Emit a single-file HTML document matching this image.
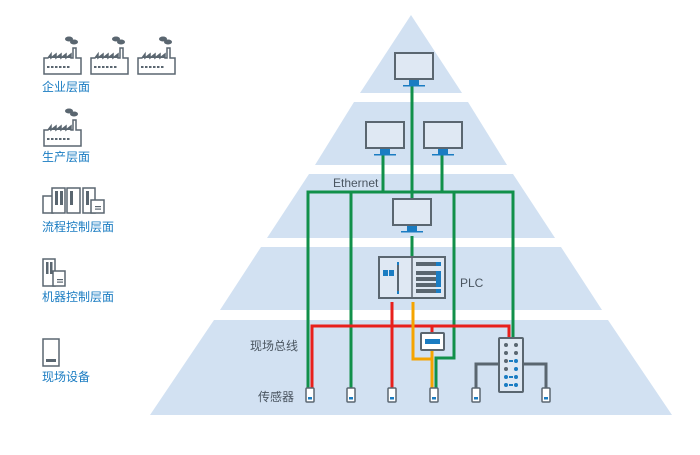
<!DOCTYPE html>
<html><head><meta charset="utf-8"><style>
html,body{margin:0;padding:0;background:#fff;}
svg{display:block;}
text{font-family:"Liberation Sans","Noto Sans CJK SC",sans-serif;}
</style></head><body>
<svg width="700" height="455" viewBox="0 0 700 455" xmlns="http://www.w3.org/2000/svg">
<defs>
<g id="fac">
  <path d="M2,26 L2,10 L6,10 L9,6 L9,10 L14,6 L14,10 L19,6 L19,10 L24,6 L24,10 L29,6 L29,10 L31,10 L31,0 L34,0 L34,10 L39,10 L39,26 Z" fill="#fff" stroke="#5a6670" stroke-width="1.5"/>
  <path d="M3,10 L6,10 L9,6 L9,10 L14,6 L14,10 L19,6 L19,10 L24,6 L24,10 L29,6 L29,10 L3,10Z" fill="#5a6670"/>
  <g fill="#5a6670"><rect x="5" y="18" width="2.5" height="2"/><rect x="9" y="18" width="2.5" height="2"/><rect x="13" y="18" width="2.5" height="2"/><rect x="17" y="18" width="2.5" height="2"/><rect x="21" y="18" width="2.5" height="2"/><rect x="25" y="18" width="2.5" height="2"/></g>
  <ellipse cx="27" cy="-9" rx="4" ry="2.5" fill="#5a6670"/><ellipse cx="32" cy="-6" rx="4" ry="2.5" fill="#5a6670"/>
</g>
<g id="mon">
  <rect x="0" y="0" width="38" height="26" fill="#dfe8f3" stroke="#5a6670" stroke-width="2"/>
  <rect x="14" y="27" width="10" height="5" fill="#1a7cc2"/>
  <rect x="8" y="32" width="22" height="1.5" fill="#1a7cc2"/>
</g>
<g id="sen">
  <rect x="0" y="0" width="8" height="14" rx="1" fill="#fff" stroke="#5a6670" stroke-width="1.5"/>
  <rect x="2" y="9" width="4" height="2.5" fill="#1a7cc2"/>
</g>
</defs>
<g fill="#d2e1f2">
  <polygon points="411,15 462,93 360,93"/>
  <polygon points="354,102 468,102 507,165 315,165"/>
  <polygon points="309,174 513,174 555,238 267,238"/>
  <polygon points="261,247 561,247 602,310 220,310"/>
  <polygon points="214,320 608,320 672,415 150,415"/>
</g>
<!-- left icons -->
<use href="#fac" x="42" y="48"/><use href="#fac" x="89" y="48"/><use href="#fac" x="136" y="48"/>
<use href="#fac" x="42" y="120"/>
<g stroke="#5a6670" stroke-width="1.5" fill="#fff">
  <rect x="43" y="196" width="10" height="17"/><rect x="52" y="188" width="13" height="25"/><rect x="67" y="188" width="13" height="25"/><rect x="83" y="188" width="12" height="25"/><rect x="91" y="200" width="13" height="13"/>
  <rect x="43" y="259" width="12" height="27"/><rect x="53" y="271" width="12" height="15"/>
  <rect x="43" y="339" width="16" height="27"/>
</g>
<g fill="#5a6670">
  <rect x="55" y="191" width="3" height="14"/><rect x="60" y="191" width="3" height="14"/><rect x="70" y="191" width="3" height="14"/><rect x="86" y="191" width="3" height="14"/>
  <rect x="95" y="206" width="6" height="1.2"/><rect x="95" y="208.5" width="6" height="1.2"/>
  <rect x="46" y="262" width="2.5" height="12"/><rect x="50" y="262" width="2.5" height="12"/>
  <rect x="57" y="279" width="6" height="1.2"/><rect x="57" y="281.5" width="6" height="1.2"/>
  <rect x="46" y="359" width="10" height="3"/>
</g>
<g fill="#1a7cc2" font-size="12">
  <text x="42" y="91">企业层面</text><text x="42" y="161">生产层面</text><text x="42" y="231">流程控制层面</text><text x="42" y="301">机器控制层面</text><text x="42" y="381">现场设备</text>
</g>
<!-- lines -->
<g fill="none" stroke-width="3">
  <path d="M412,86 V200 M412,236 V258" stroke="#11904a"/>
  <path d="M383,152 V192 M442,152 V192" stroke="#11904a"/>
  <path d="M308,390 V192 H513 V338 M351,390 V192 M454,192 V358 H436 V390" stroke="#11904a"/>
  <path d="M392,302 V390 M312,390 V326 H509 V338 M432,326 V333" stroke="#e8201c"/>
  <path d="M413,302 V359 H432 V390 M432,350 V359" stroke="#f5a400"/>
  <path d="M499,364 H476 V390 M523,364 H546 V390" stroke="#5a6670"/>
</g>
<use href="#mon" x="395" y="53"/>
<use href="#mon" x="366" y="122"/><use href="#mon" x="424" y="122"/>
<use href="#mon" x="393" y="199"/>
<!-- PLC -->
<rect x="379" y="257" width="66" height="41" fill="#dfe8f3" stroke="#5a6670" stroke-width="2"/>
<line x1="412" y1="257" x2="412" y2="298" stroke="#5a6670" stroke-width="1.5"/>
<rect x="383" y="270" width="5" height="6" fill="#1a7cc2"/><rect x="389" y="270" width="5" height="6" fill="#1a7cc2"/>
<rect x="397" y="262" width="2" height="32" fill="#5a6670"/><rect x="397" y="262" width="2" height="3" fill="#1a7cc2"/><rect x="397" y="291" width="2" height="3" fill="#1a7cc2"/>
<g fill="#5a6670">
  <rect x="416" y="262" width="20" height="4"/><rect x="416" y="271" width="20" height="4"/><rect x="416" y="277" width="20" height="4"/><rect x="416" y="283" width="20" height="4"/><rect x="416" y="289" width="20" height="4"/>
</g>
<g fill="#1a7cc2"><rect x="436" y="262" width="5" height="4"/><rect x="436" y="271" width="5" height="16"/><rect x="436" y="289" width="5" height="4"/></g>
<!-- small device -->
<rect x="421" y="333" width="23" height="17" rx="1" fill="#fff" stroke="#5a6670" stroke-width="2"/>
<rect x="425" y="339" width="15" height="5" fill="#1a7cc2"/>
<!-- switch -->
<rect x="499" y="338" width="24" height="54" rx="1" fill="#dfe8f3" stroke="#5a6670" stroke-width="2"/>
<g fill="#5a6670"><circle cx="506" cy="345" r="2"/><circle cx="516" cy="345" r="2"/><circle cx="506" cy="353" r="2"/><circle cx="516" cy="353" r="2"/><circle cx="506" cy="361" r="2"/><circle cx="506" cy="369" r="2"/></g>
<g fill="#1a7cc2"><circle cx="516" cy="361" r="2"/><circle cx="516" cy="369" r="2"/><circle cx="506" cy="377" r="2"/><circle cx="516" cy="377" r="2"/><circle cx="506" cy="385" r="2"/><circle cx="516" cy="385" r="2"/><rect x="509" y="360" width="4" height="2"/><rect x="509" y="376" width="4" height="2"/><rect x="509" y="384" width="4" height="2"/></g>
<use href="#sen" x="306" y="388"/><use href="#sen" x="347" y="388"/><use href="#sen" x="388" y="388"/><use href="#sen" x="430" y="388"/><use href="#sen" x="472" y="388"/><use href="#sen" x="542" y="388"/>
<g fill="#4a5560" font-size="12">
  <text x="333" y="187">Ethernet</text><text x="460" y="287">PLC</text><text x="250" y="350">现场总线</text><text x="258" y="401">传感器</text>
</g>
</svg>
</body></html>
